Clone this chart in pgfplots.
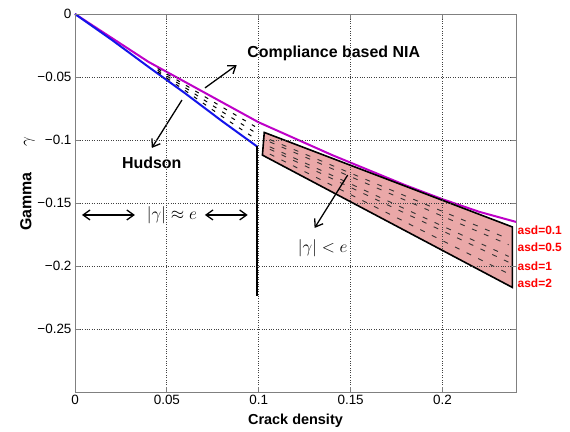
\documentclass[border=0pt]{standalone}
\usepackage{pgfplots}
\pgfplotsset{compat=1.18}
\usepackage{fontspec}
\setmainfont{Liberation Sans}
\usetikzlibrary{arrows.meta}
\definecolor{pinkfill}{RGB}{234,168,168}
\definecolor{nia}{RGB}{190,0,200}
\definecolor{hud}{RGB}{20,20,235}
\begin{document}
\begin{tikzpicture}
\begin{axis}[
  scale only axis, width=441bp, height=378bp,
  xmin=0, xmax=0.24, ymin=-0.3, ymax=0,
  clip=false,
  xtick={0,0.05,0.1,0.15,0.2}, xticklabels={0,0.05,0.1,0.15,0.2},
  ytick={-0.25,-0.2,-0.15,-0.1,-0.05,0},
  yticklabels={−0.25,−0.2,−0.15,−0.1,−0.05,0},
  tick align=inside, major tick length=5bp,
  grid=major, grid style={dotted, black!75, line width=0.9pt},
  axis line style={gray, line width=0.8pt},
  tick style={gray, line width=0.8pt},
  axis on top,
  ticklabel style={font=\fontsize{13.5}{15}\selectfont},
  xlabel={\textbf{Crack density}},
  xlabel style={font=\fontsize{14.5}{16}\selectfont, at={(axis description cs:0.5,-0.075)}, anchor=center},
  ylabel={\textbf{Gamma}\hspace{1.6em}$\gamma$},
  ylabel style={font=\fontsize{16}{18}\selectfont, at={(axis description cs:-0.108,0.55)}, anchor=center},
]
% Compliance based NIA
\addplot[nia, line width=2pt] coordinates {
 (0,0) (0.02,-0.019) (0.04,-0.038) (0.06,-0.054) (0.08,-0.070) (0.1,-0.086)
 (0.12,-0.099) (0.14,-0.112) (0.16,-0.124) (0.18,-0.136) (0.2,-0.147)
 (0.22,-0.157) (0.24,-0.165)};
% Hudson
\addplot[hud, line width=2pt] coordinates {
 (0,0) (0.02,-0.0205) (0.04,-0.042) (0.06,-0.063) (0.08,-0.085) (0.0995,-0.1056)};
% dashed band between
\addplot[black, line width=1pt, dash pattern=on 4pt off 7pt] coordinates {
 (0.045,-0.0433) (0.06,-0.0563) (0.08,-0.0738) (0.098,-0.0893)};
\addplot[black, line width=1pt, dash pattern=on 4pt off 7pt] coordinates {
 (0.045,-0.0447) (0.06,-0.0585) (0.08,-0.0775) (0.098,-0.0940)};
\addplot[black, line width=1pt, dash pattern=on 4pt off 7pt] coordinates {
 (0.045,-0.0460) (0.06,-0.0608) (0.08,-0.0813) (0.098,-0.0988)};
% vertical line
\addplot[black, line width=2pt] coordinates {(0.099,-0.105) (0.099,-0.224)};
% pink region
\addplot[fill=pinkfill, draw=black, line width=1.6pt] coordinates {
 (0.103,-0.094) (0.238,-0.169) (0.238,-0.217) (0.102,-0.112)} -- cycle;
\addplot[black!80, line width=0.9pt, dash pattern=on 5pt off 8pt] coordinates {(0.106,-0.0996) (0.236,-0.1785)};
\addplot[black!80, line width=0.9pt, dash pattern=on 5pt off 8pt] coordinates {(0.106,-0.1015) (0.236,-0.1831)};
\addplot[black!80, line width=0.9pt, dash pattern=on 5pt off 8pt] coordinates {(0.106,-0.1054) (0.236,-0.1924)};
\addplot[black!80, line width=0.9pt, dash pattern=on 5pt off 8pt] coordinates {(0.106,-0.1073) (0.236,-0.1970)};
\addplot[black!80, line width=0.9pt, dash pattern=on 5pt off 8pt] coordinates {(0.106,-0.1112) (0.236,-0.2062)};
% annotations
\node[font=\bfseries\fontsize{16}{18}\selectfont] at (axis cs:0.1408,-0.031) {Compliance based NIA};
\node[font=\bfseries\fontsize{16}{18}\selectfont] at (axis cs:0.0418,-0.118) {Hudson};
\draw[-{Straight Barb[length=7pt,width=10pt]}, line width=1.3pt] (axis cs:0.0707,-0.0587) -- (axis cs:0.088,-0.0405);
\draw[-{Straight Barb[length=7pt,width=10pt]}, line width=1.3pt] (axis cs:0.0582,-0.0683) -- (axis cs:0.0418,-0.1063);
\node[font=\fontsize{18}{20}\selectfont] at (axis cs:0.0527,-0.1595) {$|\gamma|\approx e$};
\draw[{Straight Barb[length=7pt,width=10pt]}-{Straight Barb[length=7pt,width=10pt]}, line width=1.3pt] (axis cs:0.0038,-0.1595) -- (axis cs:0.0326,-0.1595);
\draw[{Straight Barb[length=7pt,width=10pt]}-{Straight Barb[length=7pt,width=10pt]}, line width=1.3pt] (axis cs:0.0707,-0.1595) -- (axis cs:0.094,-0.1595);
\node[font=\fontsize{18}{20}\selectfont] at (axis cs:0.1348,-0.1857) {$|\gamma|<e$};
\draw[-{Straight Barb[length=7pt,width=10pt]}, line width=1.3pt] (axis cs:0.1484,-0.1278) -- (axis cs:0.1304,-0.1698);
\node[red, font=\bfseries\fontsize{12}{14}\selectfont, anchor=west, inner sep=0pt] at (axis cs:0.2408,-0.172) {asd=0.1};
\node[red, font=\bfseries\fontsize{12}{14}\selectfont, anchor=west, inner sep=0pt] at (axis cs:0.2408,-0.185) {asd=0.5};
\node[red, font=\bfseries\fontsize{12}{14}\selectfont, anchor=west, inner sep=0pt] at (axis cs:0.2408,-0.200) {asd=1};
\node[red, font=\bfseries\fontsize{12}{14}\selectfont, anchor=west, inner sep=0pt] at (axis cs:0.2408,-0.2135) {asd=2};
\end{axis}
\pgfresetboundingbox
\path ([shift={(-75bp,-40bp)}]current axis.south west) rectangle ([shift={(54bp,14bp)}]current axis.north east);
\end{tikzpicture}
\end{document}
